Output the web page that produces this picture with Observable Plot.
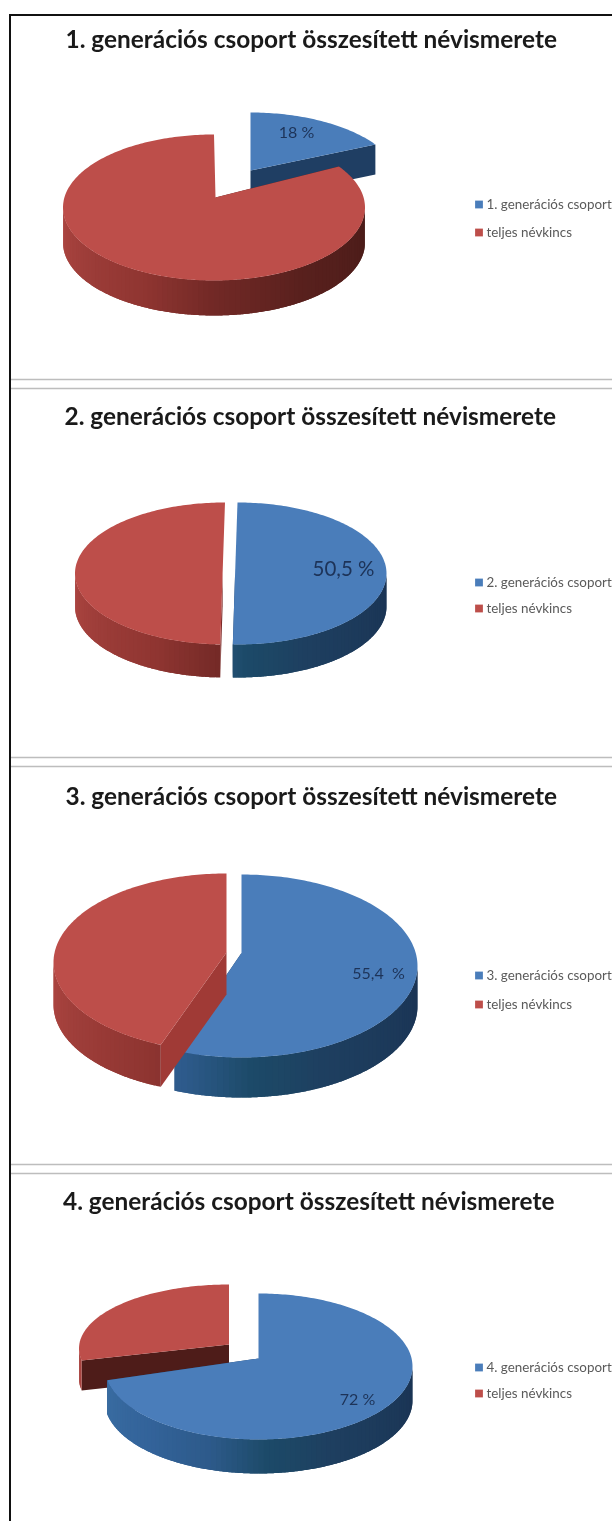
<!DOCTYPE html>
<html>
<head>
<meta charset="utf-8">
<script src="https://cdn.jsdelivr.net/npm/d3@7"></script>
<script src="https://cdn.jsdelivr.net/npm/@observablehq/plot@0.6"></script>
<style>
html,body{margin:0;padding:0;background:#fff}
svg{display:block;filter:blur(0.45px)}
</style>
</head>
<body>
<div id="chart"></div>
<script>
// --- values ---
const titles = [
  "1. generációs csoport összesített névismerete",
  "2. generációs csoport összesített névismerete",
  "3. generációs csoport összesített névismerete",
  "4. generációs csoport összesített névismerete"
];
const groupNames = ["1. generációs csoport","2. generációs csoport","3. generációs csoport","4. generációs csoport"];
const restName = "teljes névkincs";
const shareLabels = ["18 %","50,5 %","55,4  %","72 %"];
// share of the blue slice as drawn (chart 1's slice is visibly narrower than its label)
const groupShare = [15.5, 50.5, 56.2, 72];

// --- layout (not data) ---
const W = 612, H = 1521;
const BLUE = "#4a7dba", RED = "#bd4e4a";
const blueWall = d3.scaleLinear().domain([0,.25,.4,.52,.65,1]).range(["#3b6fa3","#33639a","#2d5a8a","#1c4a68","#1e3f60","#1a3353"]);
const redWall  = d3.scaleLinear().domain([0,.35,.5,.7,1]).range(["#ad4642","#8f3531","#722926","#58201d","#4a1c19"]);
const pies = [
  {blue:{cx:250,cy:185,rx:151,ry:73,dx:0,dy:-15,depth:30}, red:{cx:213.5,cy:207,rx:151,ry:73,dx:1.5,dy:-10,depth:35},
   order:["blue","red"], blueCut:"#1f3e63", redCut:"#4e1c19"},
  {blue:{cx:237,cy:573,rx:149,ry:71,dx:-2.4,dy:0,depth:33}, red:{cx:224.5,cy:573,rx:150,ry:71,dx:-2.4,dy:0,depth:33},
   order:["blue","red"], blueCut:"#1f3e63", redCut:"#7c2a28"},
  {blue:{cx:241,cy:965.5,rx:176,ry:91.5,dx:0,dy:-13,depth:40}, red:{cx:226,cy:962,rx:173,ry:89,dx:0,dy:-10,depth:42},
   order:["blue","red"], blueCut:"#1f3e63", redCut:"#a03a36"},
  {blue:{cx:258,cy:1366,rx:154,ry:73,dx:0,dy:-8,depth:34}, red:{cx:228.5,cy:1348,rx:150,ry:64,dx:0,dy:-4,depth:30},
   order:["red","blue"], blueCut:"#1f3e63", redCut:"#4e1c19"}
];
const titleY = [40,417,797,1202];
const titleX = [65,64,65,62.5];
const legendY = [[204,232],[582,608],[975,1004],[1367,1393]];
const labelPos = [[296,132,16],[343,569,20.5],[378,973,16],[357,1399,16]];
const separators = [379,388,757,766,1164,1173];

// --- polygons computed from the shares ---
const polys = [];
let polyId = 0;
function addPoly(pts, color){
  const id = polyId++;
  for (const [x,y] of pts) polys.push({id,x,y,color});
}
function pt(g, deg, drop=0){
  const a = deg*Math.PI/180;
  return [g.cx + g.rx*Math.sin(a), g.cy - g.ry*Math.cos(a) + drop];
}
function drawSlice(g, from, to, top, wall, cut, cutAngle){
  const ax = g.cx+g.dx, ay = g.cy+g.dy;
  const apex = [ax, ay], apexD = [ax, ay+g.depth];
  addPoly([apex,pt(g,cutAngle),pt(g,cutAngle,g.depth),apexD], cut);
  // outer wall: strips of the front half, each overlapping the next
  const a0 = Math.max(from,90), a1 = Math.min(to,270), step = 2;
  for (let d=a0; d<a1; d+=step){
    const strip = [];
    const end = Math.min(d+step*2,a1);
    for (let q=d; q<end; q+=0.5) strip.push(pt(g,q));
    strip.push(pt(g,end));
    const back = [];
    for (let q=end; q>d; q-=0.5) back.push(pt(g,q,g.depth));
    back.push(pt(g,d,g.depth));
    addPoly([...strip,...back], wall((270-(d+step/2))/180));
  }
  const arc = [];
  for (let d=from; d<=to+1e-6; d+=1) arc.push(pt(g,d));
  arc.push(pt(g,to));
  addPoly([apex,...arc], top);
}
pies.forEach((p,i)=>{
  const split = groupShare[i]*3.6;
  for (const which of p.order){
    if (which==="blue") drawSlice(p.blue,0,split,BLUE,blueWall,p.blueCut,split);
    else drawSlice(p.red,split,360,RED,redWall,p.redCut,split);
  }
});

const titleRows = titles.map((t,i)=>({t,x:titleX[i],y:titleY[i]}));
const labelRows = shareLabels.map((t,i)=>({t,x:labelPos[i][0],y:labelPos[i][1],s:labelPos[i][2]}));
const legendRows = groupNames.flatMap((t,i)=>[
  {t,y:legendY[i][0],c:BLUE},{t:restName,y:legendY[i][1],c:RED}
]);

const chart = Plot.plot({
  width:W, height:H, margin:0,
  x:{domain:[0,W],range:[0,W],axis:null},
  y:{domain:[0,H],range:[0,H],axis:null},
  color:{type:"identity"},
  style:{background:"#fff",fontFamily:"Lato, sans-serif"},
  marks:[
    Plot.ruleY(separators,{x1:10,x2:W,stroke:"#bdbdbd",strokeWidth:1.6}),
    Plot.ruleY([14.5],{x1:9,x2:W,stroke:"#111",strokeWidth:2}),
    Plot.ruleX([9.5],{y1:14,y2:H,stroke:"#111",strokeWidth:2}),
    Plot.line(polys,{x:"x",y:"y",z:"id",fill:"color",stroke:"none",curve:"linear"}),
    Plot.text(titleRows,{x:"x",y:"y",text:"t",textAnchor:"start",fontSize:24.4,fontWeight:700,fill:"#1a1a1a"}),
    Plot.text(labelRows,{x:"x",y:"y",text:"t",fontSize:"s",fill:"#1d3358"}),
    Plot.dot(legendRows,{x:478.5,y:"y",symbol:"square",r:4.4,fill:"c"}),
    Plot.text(legendRows,{x:486,y:"y",text:"t",textAnchor:"start",fontSize:13.4,fill:"#5a5a5a"})
  ]
});
document.getElementById("chart").append(chart);
</script>
</body>
</html>
